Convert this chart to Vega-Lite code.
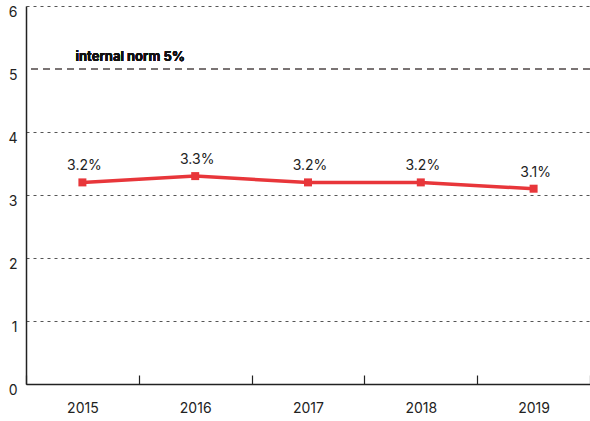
{
  "$schema": "https://vega.github.io/schema/vega-lite/v6.json",
  "width": 564,
  "height": 378,
  "autosize": {"type": "none"},
  "padding": {"left": 26, "top": 6, "right": 0, "bottom": 37},
  "background": "white",
  "config": {
    "view": {"stroke": null},
    "font": "Inter",
    "axis": {"labelFont": "Inter", "labelFontSize": 14, "labelColor": "#222", "title": null}
  },
  "data": {"values": [
    {"year": "2015", "value": 3.2, "label": "3.2%"},
    {"year": "2016", "value": 3.3, "label": "3.3%"},
    {"year": "2017", "value": 3.2, "label": "3.2%"},
    {"year": "2018", "value": 3.2, "label": "3.2%"},
    {"year": "2019", "value": 3.1, "label": "3.1%"}
  ]},
  "encoding": {
    "x": {
      "field": "year", "type": "ordinal",
      "scale": {"type": "band", "paddingInner": 0, "paddingOuter": 0},
      "axis": {
        "labelAngle": 0, "tickBand": "extent", "tickSize": -9, "tickColor": "#222", "tickWidth": 1.2,
        "domainColor": "#222", "domainWidth": 1.5, "labelPadding": 26, "grid": false
      }
    },
    "y": {
      "field": "value", "type": "quantitative",
      "scale": {"domain": [0, 6], "nice": false},
      "axis": {
        "values": [0, 1, 2, 3, 4, 5, 6], "ticks": false, "domainColor": "#222", "domainWidth": 1.5,
        "labelPadding": 9, "labelOffset": 6, "labelBound": false, "labelFlush": false,
        "grid": true, "gridColor": "#555", "gridDash": [3, 4], "gridWidth": 1,
        "gridOpacity": {"condition": {"test": "datum.value === 5", "value": 0}, "value": 1}
      }
    }
  },
  "layer": [
    {
      "mark": {"type": "rule", "color": "#7a7474", "strokeWidth": 2, "strokeDash": [7, 5]},
      "encoding": {"y": {"datum": 5}, "x": null}
    },
    {
      "mark": {"type": "text", "fontWeight": "bold", "fontSize": 13, "align": "left", "baseline": "bottom", "dx": -7, "dy": -5, "color": "#111"},
      "encoding": {"x": {"datum": "2015"}, "y": {"datum": 5}, "text": {"value": "internal norm 5%"}}
    },
    {
      "mark": {"type": "line", "color": "#e8363a", "strokeWidth": 3.5,
        "point": {"shape": "square", "size": 64, "color": "#e8363a", "filled": true, "opacity": 1}}
    },
    {
      "mark": {"type": "text", "fontSize": 14, "baseline": "bottom", "dy": -9, "dx": 2, "color": "#222"},
      "encoding": {"text": {"field": "label"}}
    }
  ]
}
